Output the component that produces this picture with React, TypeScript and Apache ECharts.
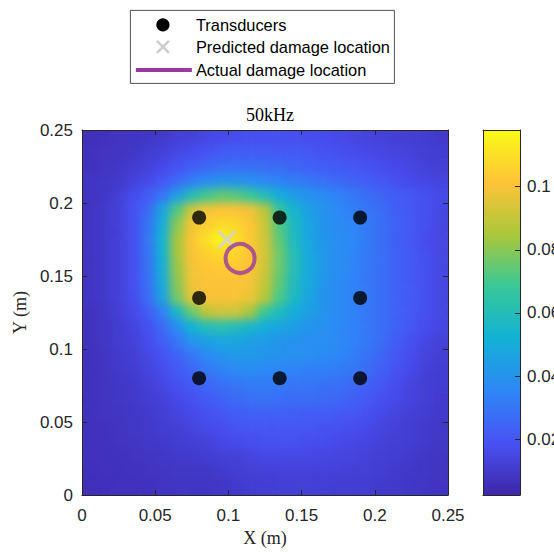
import React, { useEffect, useRef } from "react";
import * as echarts from "echarts";

// Cell centres of the amplitude map (metres)
const xCenters = [
  0.005, 0.015, 0.025, 0.035, 0.045, 0.055, 0.065, 0.075, 0.085, 0.095, 0.105, 0.115, 0.125,
  0.135, 0.145, 0.155, 0.165, 0.175, 0.185, 0.195, 0.205, 0.215, 0.225, 0.235, 0.245,
];
// rows listed from the top edge (y = 0.245) down to the bottom edge (y = 0.005)
const yCenters = [
  0.245, 0.235, 0.225, 0.215, 0.205, 0.195, 0.185, 0.175, 0.165, 0.155, 0.145, 0.135, 0.125,
  0.115, 0.105, 0.095, 0.085, 0.075, 0.065, 0.055, 0.045, 0.035, 0.025, 0.015, 0.005,
];

// Damage index amplitude, one row per entry of yCenters
const amplitudeRows = [
  [0.006,0.007,0.008,0.008,0.009,0.010,0.012,0.013,0.015,0.016,0.017,0.018,0.018,0.018,0.018,0.017,0.017,0.016,0.015,0.014,0.013,0.012,0.012,0.011,0.010],
  [0.007,0.008,0.008,0.009,0.011,0.013,0.015,0.017,0.019,0.021,0.022,0.022,0.022,0.021,0.021,0.020,0.019,0.018,0.017,0.016,0.015,0.014,0.013,0.012,0.011],
  [0.007,0.008,0.009,0.011,0.013,0.016,0.019,0.022,0.025,0.027,0.028,0.028,0.027,0.026,0.025,0.024,0.022,0.021,0.020,0.019,0.017,0.016,0.015,0.013,0.012],
  [0.008,0.009,0.010,0.013,0.016,0.020,0.026,0.032,0.037,0.040,0.040,0.038,0.036,0.034,0.032,0.030,0.028,0.026,0.024,0.022,0.020,0.018,0.016,0.015,0.014],
  [0.008,0.009,0.012,0.017,0.022,0.030,0.045,0.060,0.070,0.074,0.073,0.068,0.060,0.050,0.044,0.040,0.037,0.034,0.031,0.028,0.025,0.022,0.020,0.018,0.016],
  [0.008,0.010,0.013,0.018,0.026,0.047,0.072,0.092,0.099,0.101,0.101,0.099,0.088,0.066,0.054,0.045,0.040,0.036,0.033,0.030,0.027,0.023,0.020,0.018,0.015],
  [0.008,0.010,0.013,0.018,0.029,0.050,0.080,0.099,0.104,0.108,0.107,0.102,0.091,0.072,0.057,0.047,0.041,0.037,0.035,0.031,0.028,0.024,0.021,0.018,0.015],
  [0.008,0.010,0.013,0.018,0.030,0.053,0.084,0.101,0.110,0.117,0.110,0.103,0.092,0.074,0.058,0.047,0.041,0.038,0.036,0.032,0.027,0.023,0.020,0.017,0.015],
  [0.008,0.010,0.013,0.018,0.029,0.052,0.084,0.100,0.105,0.108,0.106,0.102,0.093,0.076,0.060,0.049,0.042,0.038,0.035,0.031,0.028,0.024,0.021,0.018,0.015],
  [0.008,0.010,0.013,0.018,0.029,0.051,0.082,0.099,0.102,0.103,0.103,0.101,0.092,0.076,0.060,0.049,0.042,0.038,0.035,0.031,0.028,0.024,0.021,0.018,0.015],
  [0.008,0.010,0.013,0.018,0.028,0.049,0.080,0.098,0.101,0.101,0.101,0.100,0.090,0.074,0.059,0.048,0.041,0.037,0.034,0.031,0.028,0.024,0.021,0.018,0.015],
  [0.008,0.010,0.013,0.017,0.027,0.046,0.077,0.096,0.100,0.100,0.100,0.098,0.087,0.071,0.057,0.047,0.041,0.037,0.034,0.031,0.028,0.024,0.021,0.018,0.015],
  [0.007,0.009,0.012,0.016,0.022,0.033,0.055,0.075,0.088,0.092,0.091,0.084,0.068,0.058,0.050,0.045,0.041,0.037,0.034,0.031,0.028,0.024,0.021,0.018,0.015],
  [0.007,0.009,0.011,0.014,0.018,0.026,0.038,0.052,0.060,0.062,0.060,0.055,0.050,0.047,0.044,0.041,0.039,0.036,0.034,0.031,0.028,0.024,0.020,0.017,0.015],
  [0.007,0.009,0.011,0.013,0.017,0.023,0.030,0.040,0.045,0.047,0.047,0.045,0.043,0.041,0.040,0.039,0.038,0.036,0.034,0.031,0.027,0.022,0.018,0.015,0.013],
  [0.007,0.008,0.010,0.012,0.015,0.019,0.024,0.030,0.036,0.040,0.042,0.042,0.041,0.040,0.039,0.038,0.037,0.035,0.033,0.029,0.025,0.020,0.017,0.014,0.012],
  [0.007,0.008,0.010,0.011,0.014,0.017,0.021,0.025,0.030,0.034,0.036,0.037,0.036,0.035,0.034,0.033,0.033,0.032,0.030,0.027,0.023,0.019,0.016,0.013,0.011],
  [0.007,0.008,0.009,0.010,0.012,0.015,0.018,0.021,0.025,0.028,0.030,0.032,0.032,0.031,0.030,0.030,0.029,0.028,0.026,0.023,0.020,0.017,0.014,0.012,0.011],
  [0.007,0.008,0.009,0.010,0.011,0.013,0.016,0.018,0.021,0.024,0.026,0.028,0.029,0.028,0.027,0.027,0.026,0.025,0.023,0.021,0.018,0.016,0.014,0.012,0.010],
  [0.007,0.008,0.008,0.009,0.010,0.012,0.014,0.016,0.018,0.020,0.022,0.023,0.023,0.023,0.023,0.022,0.022,0.021,0.020,0.018,0.016,0.014,0.012,0.011,0.010],
  [0.007,0.007,0.008,0.009,0.010,0.011,0.012,0.014,0.016,0.017,0.019,0.020,0.020,0.020,0.020,0.020,0.019,0.018,0.017,0.016,0.014,0.013,0.011,0.010,0.009],
  [0.007,0.007,0.008,0.008,0.009,0.010,0.011,0.012,0.013,0.015,0.016,0.017,0.018,0.018,0.018,0.017,0.017,0.016,0.015,0.014,0.013,0.012,0.011,0.010,0.009],
  [0.007,0.007,0.007,0.008,0.008,0.009,0.010,0.010,0.011,0.012,0.013,0.014,0.015,0.015,0.015,0.015,0.015,0.014,0.014,0.013,0.012,0.011,0.010,0.009,0.008],
  [0.006,0.007,0.007,0.007,0.008,0.008,0.009,0.009,0.009,0.010,0.011,0.012,0.013,0.013,0.013,0.013,0.013,0.013,0.012,0.012,0.011,0.010,0.009,0.009,0.008],
  [0.006,0.006,0.007,0.007,0.007,0.008,0.008,0.008,0.008,0.009,0.010,0.011,0.011,0.012,0.012,0.012,0.012,0.011,0.011,0.011,0.010,0.010,0.009,0.008,0.008],
];

// Sensor grid and damage positions (metres)
const transducerX = [0.08, 0.135, 0.19, 0.08, 0.19, 0.08, 0.135, 0.19];
const transducerY = [0.19, 0.19, 0.19, 0.135, 0.135, 0.08, 0.08, 0.08];
const predictedLocation = [0.099, 0.175];
const actualLocation = [0.108, 0.162];

const plateTicks = [0, 0.05, 0.1, 0.15, 0.2, 0.25];
const colorbarTicks = [0.02, 0.04, 0.06, 0.08, 0.1];
const colorLimits = [0.0024, 0.1179];

// parula colormap
const parula = ["#3e26a8", "#4852f4", "#2e87f7", "#12b1d6", "#37c897", "#abc739", "#fec338", "#f9fb15"];

const SANS = '"Liberation Sans", Arial, Helvetica, sans-serif';
const SERIF = '"Liberation Serif", "DejaVu Serif", serif';
const AXIS_COLOR = "#262626";

const PLOT = { left: 82, top: 130, width: 366, height: 365 };
const BAR = { left: 483, top: 130, width: 37, height: 365 };

const crossPath =
  "path://M2.6,0 L10,7.4 L17.4,0 L20,2.6 L12.6,10 L20,17.4 L17.4,20 L10,12.6 L2.6,20 L0,17.4 L7.4,10 L0,2.6 Z";

// Amplitude map filling a whole element: axes hidden, plate extent 0..0.25 m
function heatmapOption(): any {
  const cellData: number[][] = [];
  amplitudeRows.forEach((row, r) => {
    row.forEach((v, c) => cellData.push([xCenters[c], yCenters[r], v]));
  });
  const halfX = (xCenters[1] - xCenters[0]) / 2;
  const halfY = (yCenters[0] - yCenters[1]) / 2;
  const hiddenAxis = {
    type: "value",
    min: plateTicks[0],
    max: plateTicks[plateTicks.length - 1],
    show: false,
  };
  return {
    animation: false,
    grid: { left: 0, top: 0, right: 0, bottom: 0, outerBoundsMode: "none" },
    xAxis: hiddenAxis,
    yAxis: hiddenAxis,
    visualMap: {
      type: "continuous",
      show: false,
      dimension: 2,
      min: colorLimits[0],
      max: colorLimits[1],
      inRange: { color: parula },
    },
    series: [
      {
        type: "custom",
        clip: true,
        encode: { x: 0, y: 1 },
        data: cellData,
        renderItem: (_params: any, api: any) => {
          const x = api.value(0);
          const y = api.value(1);
          const p0 = api.coord([x - halfX, y + halfY]);
          const p1 = api.coord([x + halfX, y - halfY]);
          const color = api.visual("color");
          return {
            type: "rect",
            shape: { x: p0[0], y: p0[1], width: p1[0] - p0[0], height: p1[1] - p0[1] },
            style: { fill: color, stroke: color, lineWidth: 0.6 },
          };
        },
      },
    ],
  };
}

export default function App() {
  const baseRef = useRef<HTMLDivElement>(null);
  const smoothRef = useRef<HTMLDivElement>(null);
  const mainRef = useRef<HTMLDivElement>(null);

  useEffect(() => {
    if (!baseRef.current || !smoothRef.current || !mainRef.current) return;
    const base = echarts.init(baseRef.current, undefined, { renderer: "svg" });
    const smooth = echarts.init(smoothRef.current, undefined, { renderer: "svg" });
    const chart = echarts.init(mainRef.current, undefined, { renderer: "svg" });
    base.setOption(heatmapOption());
    smooth.setOption(heatmapOption());

    const transducers = transducerX.map((x, i) => [x, transducerY[i]]);

    const plateAxis = (extra: any) => ({
      type: "value",
      min: plateTicks[0],
      max: plateTicks[plateTicks.length - 1],
      interval: plateTicks[1] - plateTicks[0],
      gridIndex: 0,
      z: 10,
      splitLine: { show: false },
      axisLine: { show: true, onZero: false, lineStyle: { color: AXIS_COLOR, width: 1 } },
      axisTick: { show: true, inside: true, length: 5, lineStyle: { color: AXIS_COLOR, width: 1 } },
      ...extra,
    });

    const frameAxis = (gridIndex: number, position: string, min: number, max: number) => ({
      type: "value", gridIndex, min, max, position, z: 10,
      axisLine: { show: true, onZero: false, lineStyle: { color: AXIS_COLOR, width: 1 } },
      axisTick: { show: false }, axisLabel: { show: false }, splitLine: { show: false },
    });

    const labelStyle = { color: AXIS_COLOR, fontFamily: SANS, fontSize: 17 };

    const colorStops = parula.map((color, i) => ({ offset: i / (parula.length - 1), color }));

    const option: any = {
      animation: false,
      backgroundColor: "transparent",
      title: {
        text: "50kHz",
        left: PLOT.left + PLOT.width / 2,
        top: 101,
        textAlign: "center",
        textStyle: { fontFamily: SERIF, fontSize: 18, fontWeight: "normal", color: "#000" },
      },
      grid: [
        {
          left: PLOT.left, top: PLOT.top, width: PLOT.width, height: PLOT.height,
          containLabel: false, outerBoundsMode: "none",
        },
        {
          left: BAR.left, top: BAR.top, width: BAR.width, height: BAR.height,
          containLabel: false, outerBoundsMode: "none",
        },
      ],
      xAxis: [
        plateAxis({
          position: "bottom",
          name: "X (m)",
          nameLocation: "middle",
          nameGap: 32,
          nameTextStyle: { fontFamily: SERIF, fontSize: 18, color: AXIS_COLOR },
          axisLabel: { ...labelStyle, margin: 12 },
        }),
        plateAxis({ position: "top", axisLabel: { show: false } }),
        frameAxis(1, "bottom", 0, 1),
        frameAxis(1, "top", 0, 1),
      ],
      yAxis: [
        plateAxis({
          position: "left",
          name: "Y (m)",
          nameLocation: "middle",
          nameRotate: 90,
          nameGap: 53,
          nameTextStyle: { fontFamily: SERIF, fontSize: 18, color: AXIS_COLOR },
          axisLabel: { ...labelStyle, margin: 9 },
        }),
        plateAxis({ position: "right", axisLabel: { show: false } }),
        frameAxis(1, "left", colorLimits[0], colorLimits[1]),
        {
          type: "value", gridIndex: 1, min: colorLimits[0], max: colorLimits[1], position: "right", z: 10,
          axisLine: { show: true, onZero: false, lineStyle: { color: AXIS_COLOR, width: 1 } },
          axisTick: {
            show: true, inside: true, length: 5, customValues: colorbarTicks,
            lineStyle: { color: AXIS_COLOR, width: 1 },
          },
          axisLabel: { ...labelStyle, margin: 7, customValues: colorbarTicks },
          splitLine: { show: false },
        },
      ],
      series: [
        {
          type: "scatter",
          name: "Transducers",
          xAxisIndex: 0,
          yAxisIndex: 0,
          data: transducers,
          symbol: "circle",
          symbolSize: 14,
          itemStyle: { color: "#000000" },
          z: 5,
        },
        {
          type: "scatter",
          name: "Predicted damage location",
          xAxisIndex: 0,
          yAxisIndex: 0,
          data: [predictedLocation],
          symbol: crossPath,
          symbolSize: 19,
          itemStyle: { color: "#d2d2d2" },
          z: 6,
        },
        {
          type: "scatter",
          name: "Actual damage location",
          xAxisIndex: 0,
          yAxisIndex: 0,
          data: [actualLocation],
          symbol: "circle",
          symbolSize: 29,
          itemStyle: { color: "rgba(0,0,0,0)", borderColor: "#9a3a9f", borderWidth: 4 },
          z: 7,
        },
      ],
      graphic: [
        // colour bar
        {
          type: "rect",
          z: 1,
          shape: { x: BAR.left, y: BAR.top, width: BAR.width, height: BAR.height },
          style: { fill: new echarts.graphic.LinearGradient(0, 1, 0, 0, colorStops) },
        },
        // legend box
        {
          type: "group",
          left: 130,
          top: 10,
          children: [
            {
              type: "rect",
              shape: { x: 0.5, y: 0.5, width: 264, height: 73 },
              style: { fill: "#ffffff", stroke: AXIS_COLOR, lineWidth: 0.8 },
            },
            { type: "circle", shape: { cx: 33, cy: 15, r: 6.6 }, style: { fill: "#000000" } },
            {
              type: "line",
              shape: { x1: 27, y1: 31, x2: 39, y2: 43 },
              style: { stroke: "#cccccc", lineWidth: 2.4 },
            },
            {
              type: "line",
              shape: { x1: 27, y1: 43, x2: 39, y2: 31 },
              style: { stroke: "#cccccc", lineWidth: 2.4 },
            },
            {
              type: "line",
              shape: { x1: 6, y1: 60, x2: 62, y2: 60 },
              style: { stroke: "#9a3a9f", lineWidth: 4 },
            },
            {
              type: "text",
              x: 66, y: 15,
              style: { text: "Transducers", font: `16.4px ${SANS}`, fill: "#000", verticalAlign: "middle" },
            },
            {
              type: "text",
              x: 66, y: 37,
              style: { text: "Predicted damage location", font: `16.4px ${SANS}`, fill: "#000", verticalAlign: "middle" },
            },
            {
              type: "text",
              x: 66, y: 60,
              style: { text: "Actual damage location", font: `16.4px ${SANS}`, fill: "#000", verticalAlign: "middle" },
            },
          ],
        },
      ],
    };

    chart.setOption(option);
    return () => {
      chart.dispose();
      smooth.dispose();
      base.dispose();
    };
  }, []);

  const plateBox: React.CSSProperties = {
    position: "absolute",
    left: 0,
    top: 0,
    width: PLOT.width,
    height: PLOT.height,
  };

  return (
    <div style={{ position: "fixed", left: 0, top: 0, width: 554, height: 552, background: "#fff" }}>
      <div
        style={{
          position: "absolute",
          left: PLOT.left,
          top: PLOT.top,
          width: PLOT.width,
          height: PLOT.height,
          overflow: "hidden",
        }}
      >
        <div ref={baseRef} style={plateBox} />
        <div ref={smoothRef} style={{ ...plateBox, filter: "blur(5px)" }} />
      </div>
      <div ref={mainRef} style={{ position: "absolute", left: 0, top: 0, width: 554, height: 552 }} />
    </div>
  );
}
